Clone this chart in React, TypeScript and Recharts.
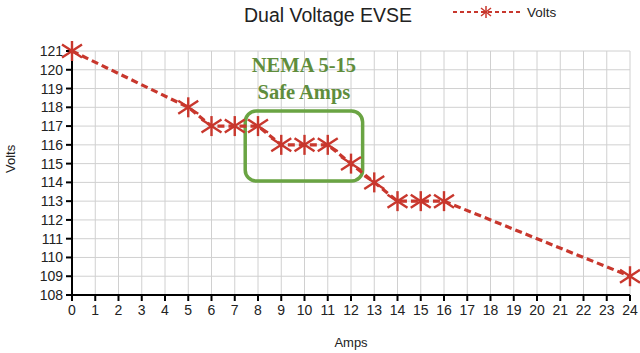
import React from 'react';
import { LineChart, Line, XAxis, YAxis, CartesianGrid, ReferenceArea } from 'recharts';

const amps = [0, 5, 6, 7, 8, 9, 10, 11, 12, 13, 14, 15, 16, 24];
const volts = [121, 118, 117, 117, 117, 116, 116, 116, 115, 114, 113, 113, 113, 109];
const xTicks = Array.from({ length: 25 }, (_, i) => i);
const yTicks = [108, 109, 110, 111, 112, 113, 114, 115, 116, 117, 118, 119, 120, 121];
const noteLines = ['NEMA 5-15', 'Safe Amps'];
const noteBox = { x1: 7.45, x2: 12.5, y1: 114.07, y2: 117.8 };

const data = amps.map((a, i) => ({ amps: a, volts: volts[i] }));

const RED = '#c8372d';
const GREEN = '#6aa443';
const FONT = '"Liberation Sans", Arial, sans-serif';

const Star = (props: any) => {
  const { cx, cy } = props;
  if (cx == null || cy == null) return null;
  const h = 10;
  const v = 6.5;
  return (
    <g stroke={RED} strokeWidth={2.4}>
      <line x1={cx - h} y1={cy - v} x2={cx + h} y2={cy + v} />
      <line x1={cx - h} y1={cy + v} x2={cx + h} y2={cy - v} />
      <line x1={cx} y1={cy - 10} x2={cx} y2={cy + 10} />
    </g>
  );
};

const BoxShape = (props: any) => {
  const { x, y, width, height } = props;
  return <rect x={x} y={y} width={width} height={height} rx={11} ry={11} fill="none" stroke={GREEN} strokeWidth={3.5} />;
};

const NoteLabel = (props: any) => {
  const vb = props.viewBox || {};
  const cx = vb.x + vb.width / 2;
  return (
    <g>
      {noteLines.map((t, i) => (
        <text key={i} x={cx} y={vb.y - 39 + i * 27} textAnchor="middle" fill="#5f8d3c"
          style={{ fontFamily: '"Liberation Serif", "Times New Roman", serif', fontWeight: 700, fontSize: 20.5 }}>
          {t}
        </text>
      ))}
    </g>
  );
};

export default function App() {
  return (
    <div style={{ position: 'absolute', left: 0, top: 0, width: 640, height: 353, background: '#fff' }}>
      <div style={{ position: 'absolute', left: 228, top: 4, width: 200, textAlign: 'center', fontFamily: FONT, fontSize: 19.5, color: '#222', whiteSpace: 'nowrap' }}>
        Dual Voltage EVSE
      </div>
      <svg style={{ position: 'absolute', left: 450, top: 0 }} width={120} height={22}>
        <line x1={3} y1={12} x2={70} y2={12} stroke={RED} strokeWidth={2} strokeDasharray="4 3" />
        <g stroke={RED} strokeWidth={1.5}>
          <line x1={31} y1={8} x2={41} y2={16} />
          <line x1={31} y1={16} x2={41} y2={8} />
          <line x1={36} y1={6} x2={36} y2={18} />
        </g>
        <text x={77} y={17} fill="#222" style={{ fontFamily: FONT, fontSize: 13.5 }}>Volts</text>
      </svg>
      <LineChart width={640} height={353} data={data} margin={{ top: 51, right: 10, left: 0, bottom: 0 }} style={{ position: 'absolute', left: 0, top: 0 }}>
        <CartesianGrid stroke="#d0d0d0" strokeWidth={1} />
        <XAxis dataKey="amps" type="number" domain={[0, 24]} ticks={xTicks} interval={0}
          axisLine={{ stroke: '#000', strokeWidth: 2 }} tickLine={{ stroke: '#000', strokeWidth: 2 }}
          tickSize={6} tickMargin={4} height={58}
          tick={{ fill: '#222', fontSize: 14, fontFamily: FONT }}
          label={{ value: 'Amps', position: 'insideBottom', offset: 6, fill: '#222', fontSize: 13, fontFamily: FONT }} />
        <YAxis type="number" domain={[108, 121]} ticks={yTicks} interval={0} width={72}
          axisLine={{ stroke: '#000', strokeWidth: 2 }} tickLine={{ stroke: '#000', strokeWidth: 2 }}
          tickSize={6} tickMargin={3}
          tick={{ fill: '#222', fontSize: 14, fontFamily: FONT }}
          label={{ value: 'Volts', angle: -90, position: 'insideLeft', offset: 10, fill: '#222', fontSize: 13, fontFamily: FONT }} />
        <ReferenceArea x1={noteBox.x1} x2={noteBox.x2} y1={noteBox.y1} y2={noteBox.y2}
          shape={BoxShape} label={NoteLabel as any} ifOverflow="visible" />
        <Line dataKey="volts" stroke={RED} strokeWidth={3.2} strokeDasharray="7 4"
          dot={Star} activeDot={false} isAnimationActive={false} />
      </LineChart>
    </div>
  );
}
